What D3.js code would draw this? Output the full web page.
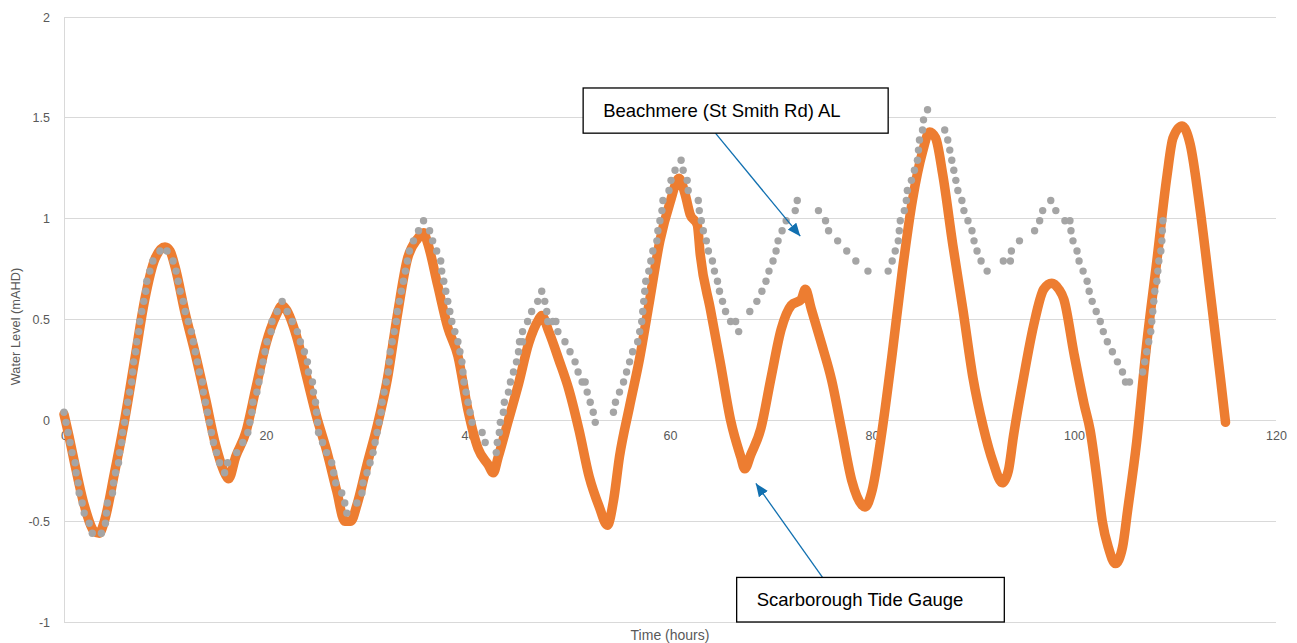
<!DOCTYPE html>
<html>
<head>
<meta charset="utf-8">
<script src="https://cdn.jsdelivr.net/npm/d3@7"></script>
<style>
  html, body { margin: 0; padding: 0; background: #fff; }
  svg { display: block; }
</style>
</head>
<body>
<svg id="chart" width="1297" height="643"></svg>
<script>
// Scarborough Tide Gauge: [hours, water level mAHD]
const scarborough = [
  [0,0.03],[0.5,-0.08],[1,-0.2],[2,-0.42],[3,-0.55],[3.5,-0.56],[4,-0.5],[5,-0.26],[6,0.0],[7,0.3],
  [8,0.6],[9,0.8],[10,0.86],[10.5,0.84],[11,0.76],[12,0.53],[13,0.33],[14,0.11],[15,-0.12],[16,-0.27],
  [16.3,-0.29],[17,-0.18],[18,-0.06],[19,0.16],[20,0.38],[21,0.52],[21.6,0.57],[22,0.55],[23,0.42],[24,0.22],
  [25,0.02],[26,-0.15],[27,-0.35],[27.8,-0.5],[28.4,-0.5],[29,-0.42],[30,-0.22],[31,-0.03],[32,0.2],[33,0.52],
  [34,0.8],[35,0.9],[35.6,0.93],[36,0.88],[37,0.67],[38,0.46],[39,0.32],[40,0.05],[41,-0.14],[42,-0.22],
  [42.5,-0.26],[43,-0.18],[44,0.0],[45,0.18],[46,0.38],[47,0.5],[47.3,0.52],[48,0.44],[49,0.3],[50,0.15],
  [51,-0.05],[52,-0.28],[53,-0.43],[53.8,-0.52],[54.4,-0.4],[55,-0.18],[56,0.07],[57,0.31],[58,0.6],[59,0.89],
  [60,1.08],[60.9,1.2],[61.5,1.12],[62,1.02],[62.7,0.97],[63,0.82],[64,0.55],[65,0.28],[66,0.0],[67,-0.18],
  [67.4,-0.24],[68,-0.17],[69,-0.04],[70,0.21],[71,0.45],[72,0.57],[73,0.6],[73.4,0.65],[74,0.55],[75,0.38],
  [76,0.2],[77,-0.05],[78,-0.3],[79,-0.42],[79.3,-0.43],[80,-0.35],[81,-0.05],[82,0.33],[83,0.74],[84,1.09],
  [85,1.33],[85.7,1.43],[86.3,1.4],[87,1.22],[88,0.87],[89,0.55],[90,0.21],[91,-0.03],[92,-0.21],[92.9,-0.31],
  [93.5,-0.25],[94,-0.08],[95,0.21],[96,0.47],[97,0.65],[97.8,0.68],[98.5,0.65],[99,0.6],[100,0.33],[101,0.08],
  [101.6,-0.05],[102.3,-0.3],[102.8,-0.5],[103.4,-0.63],[104.1,-0.71],[104.8,-0.63],[105.3,-0.45],[106.2,-0.11],[107.2,0.38],[108.2,0.79],
  [109.2,1.21],[109.8,1.4],[110.7,1.46],[111.5,1.37],[112.5,1.04],[113.5,0.63],[114.5,0.21],[115,-0.01]
];

// Beachmere (St Smith Rd) AL: [hours, water level mAHD]
const beachmere = [
  [0.0,0.04],[0.2,-0.01],[0.4,-0.06],[0.6,-0.11],[0.8,-0.16],[1.1,-0.21],[1.2,-0.26],[1.4,-0.31],[1.5,-0.36],[1.8,-0.41],
  [2.0,-0.46],[2.5,-0.51],[2.8,-0.56],[3.7,-0.56],[4.1,-0.51],[4.2,-0.46],[4.3,-0.41],[4.8,-0.36],[4.9,-0.31],[5.1,-0.26],
  [5.4,-0.21],[5.5,-0.16],[5.7,-0.11],[5.8,-0.06],[6.0,-0.01],[6.2,0.04],[6.3,0.09],[6.5,0.14],[6.7,0.19],[6.8,0.24],
  [6.9,0.29],[7.1,0.34],[7.2,0.39],[7.4,0.44],[7.5,0.49],[7.7,0.54],[7.9,0.59],[8.1,0.64],[8.2,0.69],[8.5,0.74],
  [8.8,0.79],[9.5,0.84],[10.2,0.84],[10.8,0.79],[11.1,0.74],[11.3,0.69],[11.5,0.64],[11.8,0.59],[12.0,0.54],[12.3,0.49],
  [12.6,0.44],[12.8,0.39],[13.0,0.34],[13.2,0.29],[13.4,0.24],[13.7,0.19],[13.8,0.14],[14.0,0.09],[14.2,0.04],[14.4,-0.01],
  [14.6,-0.06],[14.8,-0.11],[15.1,-0.16],[15.4,-0.21],[15.9,-0.26],[16.2,-0.21],[17.1,-0.16],[17.7,-0.11],[18.2,-0.06],[18.4,-0.01],
  [18.6,0.04],[18.7,0.09],[19.1,0.14],[19.3,0.19],[19.5,0.24],[19.7,0.29],[19.9,0.34],[20.1,0.39],[20.5,0.44],[20.6,0.49],
  [21.1,0.54],[21.6,0.59],[22.1,0.54],[22.6,0.49],[23.1,0.44],[23.4,0.39],[23.8,0.34],[24.1,0.29],[24.2,0.24],[24.6,0.19],
  [24.7,0.14],[24.9,0.09],[25.0,0.04],[25.1,-0.01],[25.2,-0.06],[25.6,-0.11],[26.0,-0.16],[26.5,-0.21],[26.7,-0.26],[26.9,-0.31],
  [27.5,-0.36],[27.8,-0.41],[28.0,-0.46],[29.0,-0.41],[29.5,-0.36],[29.6,-0.31],[30.0,-0.26],[30.3,-0.21],[30.6,-0.16],[30.8,-0.11],
  [31.0,-0.06],[31.2,-0.01],[31.4,0.04],[31.5,0.09],[31.7,0.14],[31.9,0.19],[32.1,0.24],[32.2,0.29],[32.3,0.34],[32.5,0.39],
  [32.7,0.44],[32.9,0.49],[33.0,0.54],[33.2,0.59],[33.4,0.64],[33.6,0.69],[33.8,0.74],[34.0,0.79],[34.2,0.84],[34.6,0.89],
  [35.1,0.94],[35.6,0.99],[36.2,0.94],[36.5,0.89],[36.9,0.84],[37.3,0.79],[37.4,0.74],[37.6,0.69],[37.8,0.64],[38.0,0.59],
  [38.2,0.54],[38.4,0.49],[38.7,0.44],[39.0,0.39],[39.2,0.34],[39.4,0.29],[39.5,0.24],[39.6,0.19],[39.8,0.14],[40.0,0.09],
  [40.2,0.04],[40.4,-0.01],[41.4,-0.06],[41.7,-0.11],[42.8,-0.16],[42.9,-0.11],[43.1,-0.06],[43.2,-0.01],[43.5,0.04],[43.6,0.09],
  [44.0,0.14],[44.2,0.19],[44.5,0.24],[44.8,0.29],[45.0,0.34],[45.1,0.39],[45.4,0.39],[45.4,0.44],[45.9,0.49],[46.3,0.54],
  [46.9,0.59],[47.3,0.64],[47.6,0.59],[47.8,0.54],[47.9,0.49],[48.4,0.49],[48.7,0.49],[48.9,0.44],[49.6,0.39],[50.1,0.34],
  [50.6,0.29],[50.9,0.24],[51.3,0.19],[51.6,0.19],[51.8,0.14],[52.1,0.09],[52.4,0.04],[52.6,-0.01],[54.4,0.04],[54.6,0.09],
  [55.0,0.14],[55.4,0.19],[55.7,0.24],[56.0,0.29],[56.3,0.34],[56.8,0.39],[57.0,0.44],[57.2,0.49],[57.3,0.54],[57.4,0.59],
  [57.5,0.64],[57.6,0.69],[57.9,0.74],[58.1,0.79],[58.3,0.84],[58.7,0.89],[58.8,0.94],[59.0,0.99],[59.2,1.04],[59.3,1.09],
  [59.9,1.14],[60.1,1.19],[60.5,1.24],[61.1,1.29],[61.3,1.24],[61.7,1.19],[61.8,1.14],[62.8,1.09],[62.9,1.04],[63.1,0.99],
  [63.3,0.94],[63.6,0.89],[63.8,0.84],[64.2,0.79],[64.4,0.74],[64.7,0.69],[64.9,0.64],[65.2,0.59],[65.5,0.54],[66.0,0.49],
  [66.5,0.49],[66.8,0.44],[67.9,0.54],[68.6,0.59],[69.1,0.64],[69.5,0.69],[69.8,0.74],[70.2,0.79],[70.5,0.84],[70.7,0.89],
  [71.1,0.94],[71.5,0.99],[72.4,1.04],[72.6,1.09],[74.7,1.04],[75.4,0.99],[75.7,0.94],[76.6,0.89],[77.5,0.84],[78.4,0.79],
  [79.6,0.74],[81.6,0.74],[82.0,0.79],[82.3,0.84],[82.6,0.89],[82.7,0.94],[82.8,0.99],[83.2,1.04],[83.4,1.09],[83.5,1.14],
  [83.9,1.19],[84.2,1.24],[84.5,1.29],[84.6,1.34],[84.7,1.39],[85.0,1.44],[85.1,1.49],[85.5,1.54],[87.2,1.44],[87.5,1.39],
  [87.7,1.34],[87.9,1.29],[88.1,1.24],[88.3,1.19],[88.5,1.14],[88.9,1.09],[89.1,1.04],[89.5,0.99],[89.9,0.94],[90.1,0.89],
  [90.4,0.84],[90.8,0.79],[91.4,0.74],[93.0,0.79],[93.7,0.79],[93.8,0.84],[94.6,0.89],[96.1,0.94],[96.6,0.99],[96.9,1.04],
  [97.7,1.09],[98.2,1.04],[99.1,0.99],[99.6,0.99],[99.7,0.94],[99.9,0.89],[100.3,0.84],[100.5,0.79],[100.9,0.74],[101.3,0.69],
  [101.5,0.64],[101.8,0.59],[102.2,0.54],[102.6,0.49],[102.9,0.44],[103.3,0.39],[103.8,0.34],[104.3,0.29],[104.8,0.24],[105.1,0.19],
  [105.5,0.19],[106.8,0.24],[107.0,0.29],[107.2,0.34],[107.4,0.39],[107.6,0.44],[107.7,0.49],[107.8,0.54],[107.9,0.59],[108.0,0.64],
  [108.2,0.69],[108.3,0.74],[108.4,0.79],[108.6,0.84],[108.7,0.89],[108.75,0.94],[108.8,0.99]
];

const xTicks = [0, 20, 40, 60, 80, 100, 120];
const yTicks = [-1, -0.5, 0, 0.5, 1, 1.5, 2];

// Callout boxes and their arrows, in data units: box [x0, x1, yTop, yBottom], arrow [fromX, fromY, toX, toY]
const calloutLabels = ["Beachmere (St Smith Rd) AL", "Scarborough Tide Gauge"];
const calloutBoxes = [[51.4, 81.6, 1.648, 1.424], [66.6, 93.1, -0.779, -1.0]];
const calloutArrows = [[64.5, 1.424, 72.9, 0.913], [75.1, -0.779, 68.5, -0.313]];

const svg = d3.select("#chart");
const plotLeft = 64, plotRight = 1276, plotTop = 17, plotBottom = 622;

const x = d3.scaleLinear().domain([0, 120]).range([plotLeft, plotRight]);
const y = d3.scaleLinear().domain([-1, 2]).range([plotBottom, plotTop]);

const font = "'Liberation Sans', Arial, sans-serif";
const axisGrey = "#595959";

// horizontal gridlines
svg.append("g")
  .selectAll("line")
  .data(yTicks)
  .join("line")
  .attr("x1", plotLeft).attr("x2", plotRight)
  .attr("y1", d => y(d)).attr("y2", d => y(d))
  .attr("stroke", "#d9d9d9").attr("stroke-width", 1)
  .attr("shape-rendering", "crispEdges");

// vertical axis line
svg.append("line")
  .attr("x1", plotLeft).attr("x2", plotLeft)
  .attr("y1", plotTop).attr("y2", plotBottom)
  .attr("stroke", "#d9d9d9").attr("stroke-width", 1)
  .attr("shape-rendering", "crispEdges");

// y axis labels
const yAxis = svg.append("g")
  .attr("transform", `translate(${plotLeft},0)`)
  .call(d3.axisLeft(y).tickValues(yTicks).tickSize(0).tickPadding(14).tickFormat(d => String(d)));
yAxis.select(".domain").remove();
yAxis.selectAll("text").attr("fill", axisGrey).style("font-family", font).style("font-size", "12.5px");

// x axis labels sit just under the zero line
const xAxis = svg.append("g")
  .attr("transform", `translate(0,${y(0)})`)
  .call(d3.axisBottom(x).tickValues(xTicks).tickSize(0).tickPadding(11).tickFormat(d => String(d)));
xAxis.select(".domain").remove();
xAxis.selectAll("text").attr("fill", axisGrey).style("font-family", font).style("font-size", "12.5px");

// axis titles
svg.append("text")
  .attr("transform", `translate(20,${(plotTop + plotBottom) / 2 + 7}) rotate(-90)`)
  .attr("text-anchor", "middle")
  .attr("fill", axisGrey)
  .style("font-family", font).style("font-size", "12.8px")
  .text("Water Level (mAHD)");

svg.append("text")
  .attr("x", (plotLeft + plotRight) / 2).attr("y", 640)
  .attr("text-anchor", "middle")
  .attr("fill", axisGrey)
  .style("font-family", font).style("font-size", "14px")
  .text("Time (hours)");

// Scarborough series: dense thick orange trace
const line = d3.line()
  .x(d => x(d[0]))
  .y(d => y(d[1]))
  .curve(d3.curveMonotoneX);

svg.append("path")
  .datum(scarborough)
  .attr("d", line)
  .attr("fill", "none")
  .attr("stroke", "#ed7d31")
  .attr("stroke-width", 9.5)
  .attr("stroke-linejoin", "round")
  .attr("stroke-linecap", "round");

// Beachmere series: grey markers
svg.append("g")
  .selectAll("circle")
  .data(beachmere)
  .join("circle")
  .attr("cx", d => x(d[0]))
  .attr("cy", d => y(d[1]))
  .attr("r", 3.7)
  .attr("fill", "#a5a5a5");

// callouts
const arrowBlue = "#1170b0";
svg.append("defs").append("marker")
  .attr("id", "head")
  .attr("viewBox", "0 0 13 11")
  .attr("refX", 13).attr("refY", 5.5)
  .attr("markerWidth", 13).attr("markerHeight", 11)
  .attr("markerUnits", "userSpaceOnUse")
  .attr("orient", "auto")
  .append("path")
  .attr("d", "M0,0 L13,5.5 L0,11 Z")
  .attr("fill", arrowBlue);

svg.append("g")
  .selectAll("line")
  .data(calloutArrows)
  .join("line")
  .attr("x1", d => x(d[0])).attr("y1", d => y(d[1]))
  .attr("x2", d => x(d[2])).attr("y2", d => y(d[3]))
  .attr("stroke", arrowBlue).attr("stroke-width", 1.3)
  .attr("marker-end", "url(#head)");

const boxes = svg.append("g")
  .selectAll("g")
  .data(calloutBoxes)
  .join("g");

boxes.append("rect")
  .attr("x", d => x(d[0]))
  .attr("y", d => y(d[2]))
  .attr("width", d => x(d[1]) - x(d[0]))
  .attr("height", d => y(d[3]) - y(d[2]))
  .attr("fill", "#fff")
  .attr("stroke", "#000")
  .attr("stroke-width", 1.3);

boxes.append("text")
  .attr("x", d => x(d[0]) + 20)
  .attr("y", d => (y(d[2]) + y(d[3])) / 2 + 6.5)
  .attr("fill", "#000")
  .style("font-family", font).style("font-size", "18.5px")
  .text((d, i) => calloutLabels[i]);
</script>
</body>
</html>
